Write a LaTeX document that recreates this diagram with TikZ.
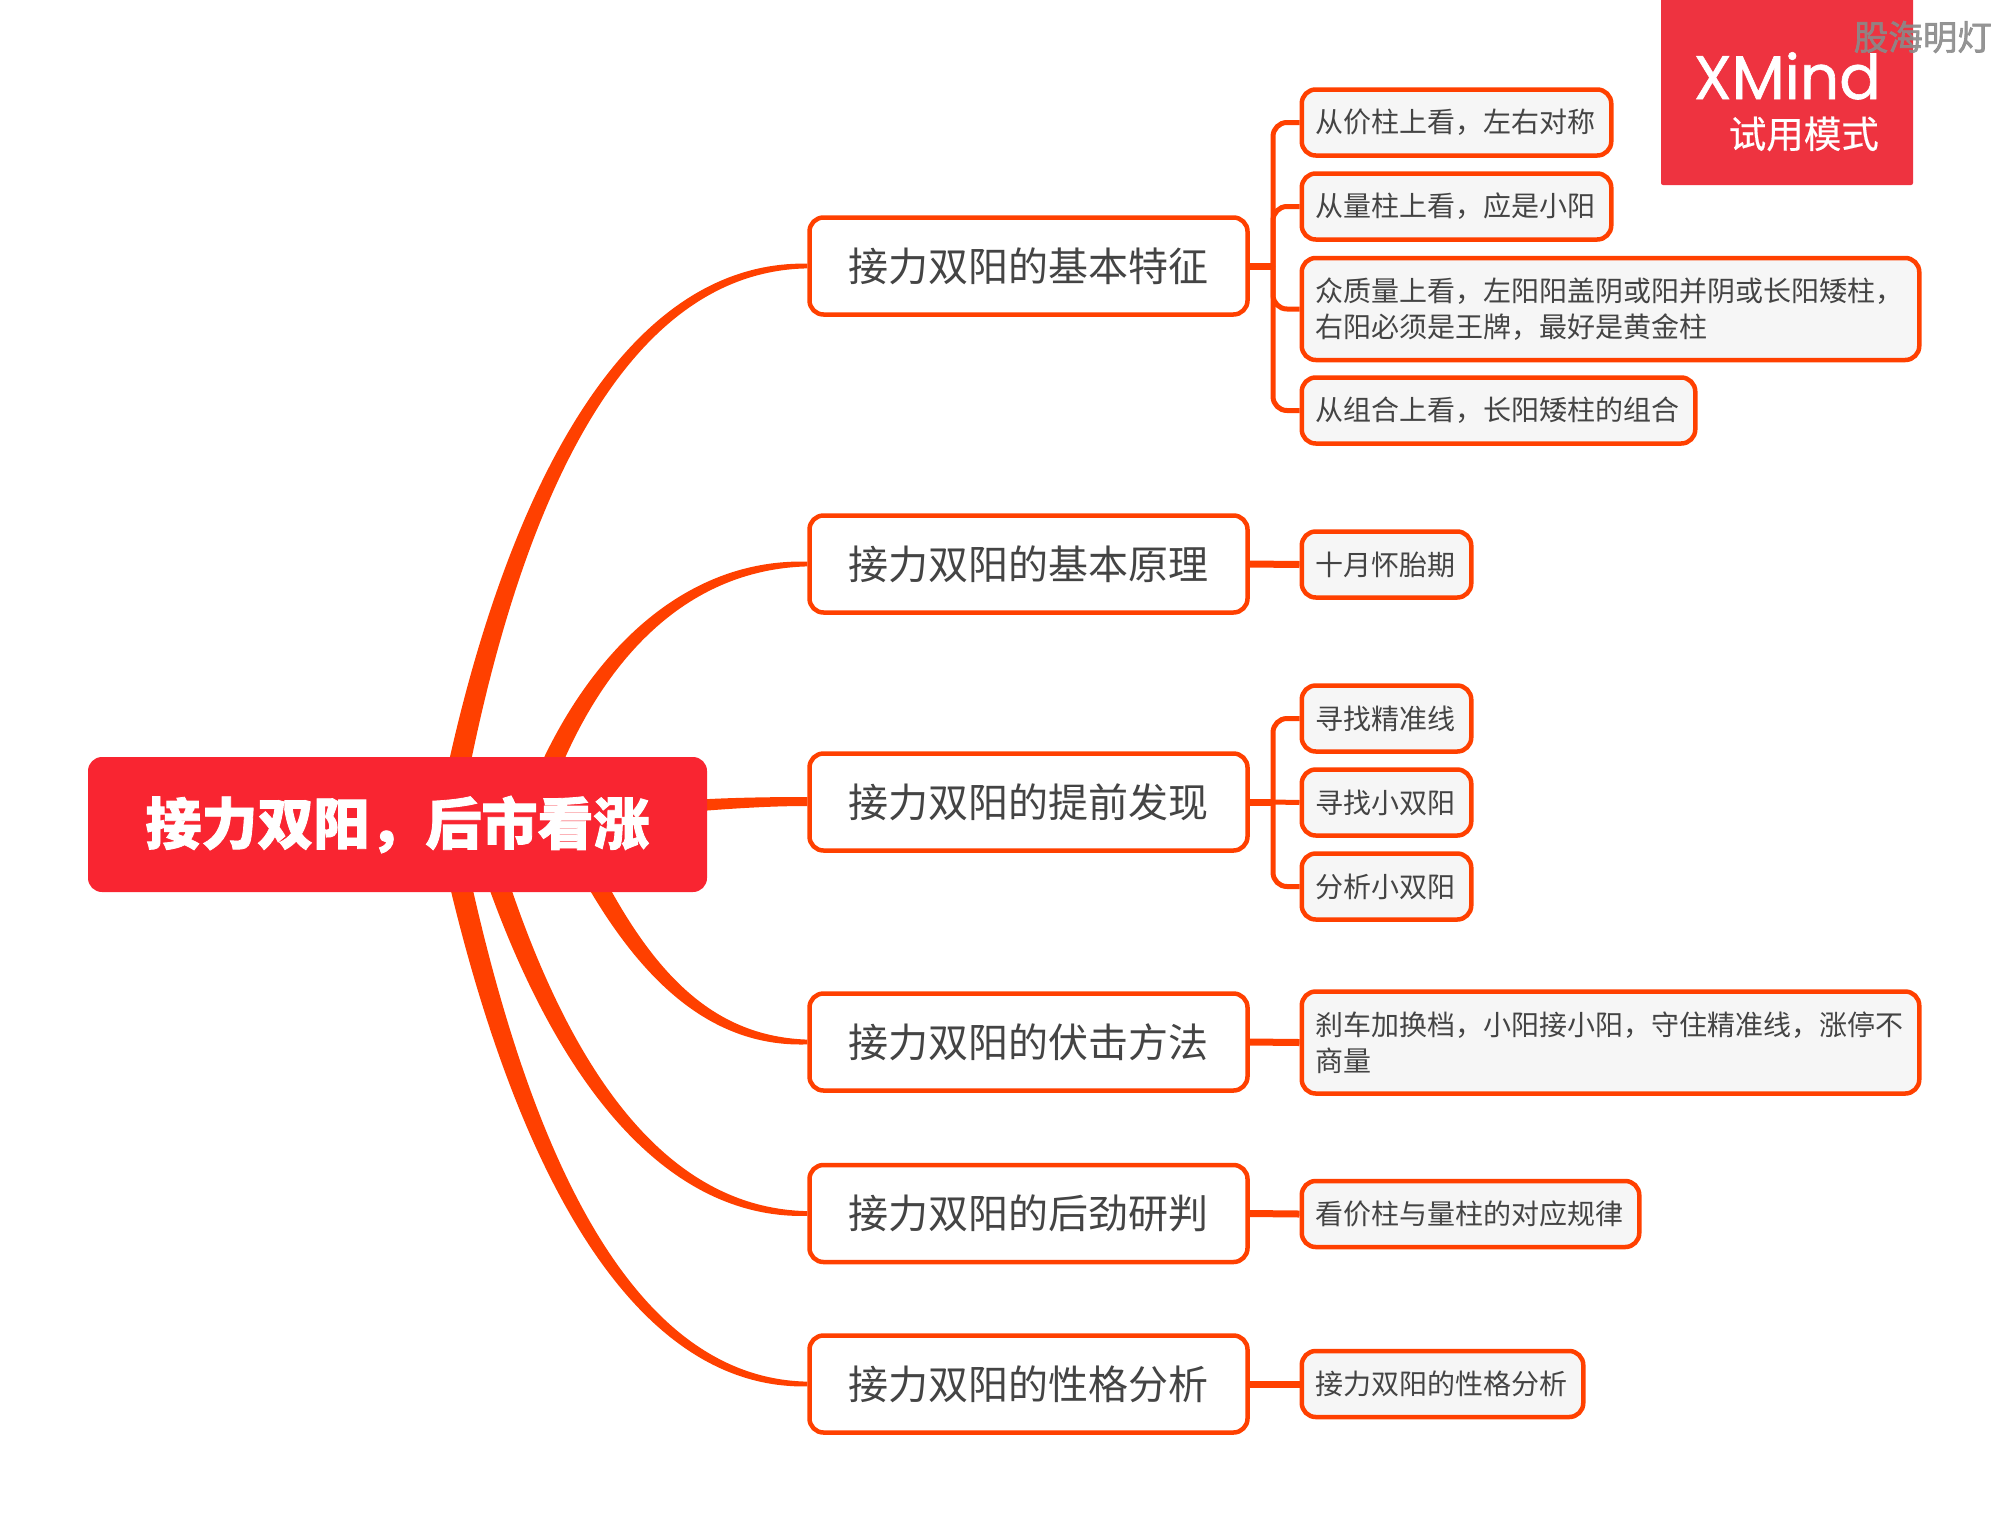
\documentclass[tikz,border=0pt]{standalone}
\usepackage{fontspec}
\newfontfamily\cjk{Noto Sans CJK SC}[BoldFeatures={FakeBold=1.5}]
\newfontfamily\cjkmid{Noto Sans CJK SC}[FakeBold=0.4]
\newfontfamily\wmfont{Noto Sans CJK SC}[FakeBold=1.8]
\newfontfamily\logofont{Poppins}[FakeBold=1]
\usetikzlibrary{backgrounds,calc}
\definecolor{conn}{HTML}{FF4000}
\definecolor{rootred}{HTML}{F92531}
\definecolor{logored}{HTML}{EE3340}
\definecolor{leaffill}{HTML}{F6F6F6}
\definecolor{ink}{HTML}{444444}
\definecolor{wmgray}{HTML}{8A8A8A}
\tikzset{
  mainbox/.style={draw=conn,fill=white,line width=4.5pt,rounded corners=14pt,minimum width=438pt,minimum height=97pt,text=ink,font=\cjk\fontsize{40}{48}\selectfont,inner sep=0pt},
  leaf/.style={draw=conn,fill=leaffill,line width=4.5pt,rounded corners=14pt,anchor=west,align=left,text=ink,inner xsep=13.5pt,inner ysep=0pt,text width=#1pt,minimum height=66pt,font=\cjk\fontsize{28}{36}\selectfont},
  rootbox/.style={fill=rootred,rounded corners=14pt,minimum width=619pt,minimum height=135pt,text=white,font=\cjk\bfseries\fontsize{56}{66}\selectfont,inner sep=0pt},
  stub/.style={draw=conn,line width=7pt},
  branch/.style={draw=conn,line width=5pt,rounded corners=14pt},
  tapered/.style={fill=conn,draw=none},
}
\newcommand{\taper}[5]{%
  \fill[tapered] ($(#1)+(-11.5,0)$) .. controls ($(#2)+(-10,0)$) and ($(#3)+(-3,{#5*6})$) .. ($(#4)+(0,{#5*2.4})$)
    -- ($(#4)+(0,{-#5*2.4})$) .. controls ($(#3)+(3,{-#5*6})$) and ($(#2)+(10,0)$) .. ($(#1)+(11.5,0)$) -- cycle;}
\begin{document}
\begin{tikzpicture}[x=1pt,y=-1pt]
\useasboundingbox (0,0) rectangle (2007,1521);
% root and main topics
\node[rootbox] (root) at (397.5,824.5) {接力双阳，后市看涨};
\node[mainbox] (m1) at (1028.5,266) {接力双阳的基本特征};
\node[mainbox] (m2) at (1028.5,564) {接力双阳的基本原理};
\node[mainbox] (m3) at (1028.5,802) {接力双阳的提前发现};
\node[mainbox] (m4) at (1028.5,1042) {接力双阳的伏击方法};
\node[mainbox] (m5) at (1028.5,1213.5) {接力双阳的后劲研判};
\node[mainbox] (m6) at (1028.5,1384) {接力双阳的性格分析};
% leaves
\node[leaf=282.5] (a1) at (1299.5,122.5) {从价柱上看，左右对称};
\node[leaf=282.5] (a2) at (1299.5,206.5) {从量柱上看，应是小阳};
\node[leaf=590.5,minimum height=102pt] (a3) at (1299.5,309) {众质量上看，左阳阳盖阴或阳并阴或长阳矮柱，\\右阳必须是王牌，最好是黄金柱};
\node[leaf=366.5] (a4) at (1299.5,410.5) {从组合上看，长阳矮柱的组合};
\node[leaf=142.5] (b1) at (1299.5,564.5) {十月怀胎期};
\node[leaf=142.5] (c1) at (1299.5,718.5) {寻找精准线};
\node[leaf=142.5] (c2) at (1299.5,802.5) {寻找小双阳};
\node[leaf=142.5] (c3) at (1299.5,886.5) {分析小双阳};
\node[leaf=590.5,minimum height=102pt] (d1) at (1299.5,1042.5) {刹车加换档，小阳接小阳，守住精准线，涨停不\\商量};
\node[leaf=310.5] (e1) at (1299.5,1214) {看价柱与量柱的对应规律};
\node[leaf=254.5] (f1) at (1299.5,1384) {接力双阳的性格分析};
% tapered connectors
\begin{pgfonlayer}{background}
\coordinate (r1) at ($(root.center)+(50,0)$);
\coordinate (r2) at ($(root.center)+(131,0)$);
\coordinate (r3) at ($(root.center)+(250,0)$);
\coordinate (r4) at ($(root.center)+(169,0)$);
\coordinate (r5) at ($(root.center)+(82,0)$);
\coordinate (r6) at ($(root.center)+(50,0)$);
\taper{r1}{490,590}{590,266}{m1.west}{-1}
\taper{r2}{575,680}{670,564}{m2.west}{-1}
\fill[tapered] ($(r3)+(0,-21)$) .. controls (700,798) and (760,797) .. ($(m3.west)+(0,-5)$) -- ($(m3.west)+(0,4)$) .. controls (760,806) and (710,810) .. ($(r3)+(0,-9)$) -- cycle;
\taper{r4}{630,960}{700,1042}{m4.west}{1}
\taper{r5}{545,1045}{650,1214}{m5.west}{1}
\taper{r6}{510,1130}{620,1384}{m6.west}{1}
\end{pgfonlayer}
% branches
\coordinate (ja) at (1273,266);
\coordinate (jc) at (1273,802);
\draw[stub] (m1.east) -- (ja);
\draw[branch] (ja) |- (a1.west);
\draw[branch] (ja) |- (a2.west);
\draw[branch] (ja) |- (a3.west);
\draw[branch] (ja) |- (a4.west);
\draw[stub] (m2.east) -- (b1.west);
\draw[stub] (m3.east) -- (jc);
\draw[branch] (jc) |- (c1.west);
\draw[branch] (jc) -- (c2.west);
\draw[branch] (jc) |- (c3.west);
\draw[stub] (m4.east) -- (d1.west);
\draw[stub] (m5.east) -- (e1.west);
\draw[stub] (m6.east) -- (f1.west);
% trial badge
\fill[logored,rounded corners=2pt] (1661,-5) rectangle (1913,185);
\node[anchor=base east,text=white,inner sep=0pt,font=\logofont\fontsize{61.5}{60}\selectfont] (logo) at (1881,99) {XMind};
\node[anchor=base east,text=white,inner sep=0pt,font=\cjkmid\fontsize{37.5}{40}\selectfont] (mode) at (1879,148) {试用模式};
\node[anchor=base east,inner sep=0pt,text=wmgray,text opacity=0.9,font=\wmfont\fontsize{34.5}{40}\selectfont] (wm) at (1992,50) {股海明灯};
\end{tikzpicture}
\end{document}
